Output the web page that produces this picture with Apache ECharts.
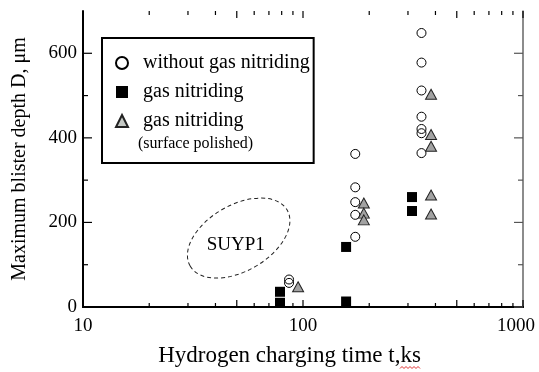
<!DOCTYPE html>
<html>
<head>
<meta charset="utf-8">
<script src="https://cdn.jsdelivr.net/npm/echarts@6/dist/echarts.min.js"></script>
<style>
  html, body { margin: 0; padding: 0; background: #fff; }
  #chart { width: 539px; height: 372px; }
</style>
</head>
<body>
<div id="chart"></div>
<script>
// Hydrogen charging time (ks) and maximum blister depth D (µm)
const plainTime  = [86.4, 86.4, 172.8, 172.8, 172.8, 172.8, 172.8, 345.6, 345.6, 345.6, 345.6, 345.6, 345.6, 345.6];
const plainDepth = [65, 57, 362, 283, 248, 218, 166, 648, 578, 512, 450, 421, 411, 364];

const nitridedTime  = [78.6, 78.6, 157, 157, 313, 313];
const nitridedDepth = [36, 10, 142, 13, 260, 227];

const polishedTime  = [95, 189, 189, 189, 382, 382, 382, 382, 382];
const polishedDepth = [48, 246, 222, 206, 503, 408, 380, 265, 220];

const seriesNames = ['without gas nitriding', 'gas nitriding', 'gas nitriding '];
const polishedNote = '(surface polished)';
const regionLabel = 'SUYP1';

// Axis ranges and ticks
const xMin = 10, xMax = 1000;
const yMin = 0, yMax = 700;
const xTickLabels = [10, 100, 1000];
const xMajorTicks = [10, 50, 100, 500, 1000];
const xMinorTicks = [20, 30, 40, 60, 70, 80, 90, 200, 300, 400, 600, 700, 800, 900];
const yTickLabels = [0, 200, 400, 600];
const yMinorTicks = [100, 300, 500];

const SERIF = 'Liberation Serif';
const zip = (xs, ys) => xs.map((x, i) => [x, ys[i]]);

const chart = echarts.init(document.getElementById('chart'), null, { renderer: 'canvas' });

// Inward ticks on both sides of the frame, placed through the axis scales
function xTickRender(params, api) {
  const len = api.value(1) ? 7 : 4;
  const b = api.coord([api.value(0), yMin]);
  const t = api.coord([api.value(0), yMax]);
  const st = { stroke: '#000', lineWidth: 1.2 };
  return { type: 'group', children: [
    { type: 'line', shape: { x1: b[0], y1: b[1], x2: b[0], y2: b[1] - len }, style: st },
    { type: 'line', shape: { x1: t[0], y1: t[1], x2: t[0], y2: t[1] + len }, style: st }
  ] };
}
function yTickRender(params, api) {
  const len = api.value(2) ? 9 : 5;
  const l = api.coord([xMin, api.value(1)]);
  const r = api.coord([xMax, api.value(1)]);
  const st = { stroke: '#000', lineWidth: 1.2 };
  return { type: 'group', children: [
    { type: 'line', shape: { x1: l[0], y1: l[1], x2: l[0] + len, y2: l[1] }, style: st },
    { type: 'line', shape: { x1: r[0], y1: r[1], x2: r[0] - len, y2: r[1] }, style: { stroke: '#555', lineWidth: 1.2 } }
  ] };
}

// small wavy underline beneath "ks" in the axis title
const wave = [];
for (let i = 0; i <= 10; i++) wave.push([400 + i * 2, i % 2 ? 366.5 : 368.5]);

const option = {
  backgroundColor: '#fff',
  animation: false,
  grid: { left: 83, right: 16, top: 11, bottom: 65 },
  xAxis: [
    {
      type: 'log', logBase: 10, min: xMin, max: xMax,
      name: 'Hydrogen charging time t,ks',
      nameLocation: 'middle', nameGap: 37,
      nameTextStyle: { fontFamily: SERIF, fontSize: 23, color: '#000', padding: [0, 27, 0, 0] },
      axisLine: { show: true, lineStyle: { color: '#000', width: 2 } },
      axisTick: { show: false },
      splitLine: { show: false },
      axisLabel: {
        margin: 10, color: '#000', fontFamily: SERIF, fontSize: 19,
        formatter: v => (xTickLabels.indexOf(v) === xTickLabels.length - 1 ? '{r|' + v + '}' : String(v)),
        rich: { r: { fontFamily: SERIF, fontSize: 19, color: '#000', padding: [0, 14, 0, 0] } }
      }
    },
    {
      type: 'log', logBase: 10, min: xMin, max: xMax, position: 'top',
      axisLine: { show: true, lineStyle: { color: '#000', width: 2 } },
      axisTick: { show: false }, axisLabel: { show: false }, splitLine: { show: false }
    }
  ],
  yAxis: [
    {
      type: 'value', min: yMin, max: yMax, interval: 100,
      name: 'Maximum blister depth D, \u03bcm',
      nameLocation: 'middle', nameGap: 53,
      nameTextStyle: { fontFamily: SERIF, fontSize: 20, color: '#000' },
      axisLine: { show: true, lineStyle: { color: '#000', width: 2 } },
      axisTick: { show: false },
      splitLine: { show: false },
      axisLabel: {
        margin: 6, color: '#000', fontFamily: SERIF, fontSize: 19,
        formatter: v => (yTickLabels.indexOf(v) >= 0 ? String(v) : '')
      }
    },
    {
      type: 'value', min: yMin, max: yMax, position: 'right',
      axisLine: { show: true, lineStyle: { color: '#666', width: 1.5 } },
      axisTick: { show: false }, axisLabel: { show: false }, splitLine: { show: false }
    }
  ],
  legend: {
    orient: 'vertical', left: 102, top: 38,
    padding: [15, 4, 32, 13],
    itemWidth: 12, itemHeight: 12, itemGap: 9,
    backgroundColor: '#fff', borderColor: '#000', borderWidth: 2, borderRadius: 0,
    formatter: name => '{t|' + name + '}',
    textStyle: {
      fontFamily: SERIF, fontSize: 20, color: '#000',
      rich: { t: { fontFamily: SERIF, fontSize: 20, color: '#000', padding: [0, 0, 0, 10] } }
    },
    data: [
      { name: seriesNames[0] },
      { name: seriesNames[1] },
      { name: seriesNames[2], itemStyle: { color: '#c4c8c4', opacity: 1 } }
    ]
  },
  graphic: [
    {
      type: 'text', left: 138, top: 136, silent: true, z: 100,
      style: { text: polishedNote, fontFamily: SERIF, fontSize: 16, fill: '#000' }
    },
    {
      type: 'polyline', silent: true, z: 100,
      shape: { points: wave },
      style: { stroke: '#e03030', lineWidth: 1, fill: 'none' }
    }
  ],
  series: [
    {
      name: seriesNames[0], type: 'scatter', symbol: 'circle', symbolSize: 9,
      itemStyle: { color: 'rgba(255,255,255,0)', borderColor: '#000', borderWidth: 1, opacity: 1 },
      data: zip(plainTime, plainDepth), z: 3
    },
    {
      name: seriesNames[1], type: 'scatter', symbol: 'rect', symbolSize: 10,
      itemStyle: { color: '#000', opacity: 1 },
      data: zip(nitridedTime, nitridedDepth), z: 3
    },
    {
      name: seriesNames[2], type: 'scatter', symbol: 'triangle', symbolSize: [11, 10],
      itemStyle: { color: '#a2a2a2', borderColor: '#222', borderWidth: 1, opacity: 1 },
      data: zip(polishedTime, polishedDepth), z: 4
    },
    {
      type: 'custom', silent: true, z: 5,
      data: xMajorTicks.map(v => [v, 1]).concat(xMinorTicks.map(v => [v, 0])),
      renderItem: xTickRender
    },
    {
      type: 'custom', silent: true, z: 5,
      data: yTickLabels.map(v => [xMin, v, 1]).concat(yMinorTicks.map(v => [xMin, v, 0])),
      renderItem: yTickRender
    },
    {
      // dashed outline around the SUYP1 region with its label
      type: 'custom', silent: true, z: 2,
      data: [[51, 163]],
      renderItem: (params, api) => {
        const c = api.coord([api.value(0), api.value(1)]);
        return { type: 'group', children: [
          { type: 'ellipse', x: c[0], y: c[1], rotation: Math.PI / 6,
            shape: { cx: 0, cy: 0, rx: 56, ry: 33 },
            style: { fill: 'none', stroke: '#222', lineWidth: 1, lineDash: [4, 3] } },
          { type: 'text', x: c[0] - 3, y: c[1] + 7,
            style: { text: regionLabel, fontFamily: SERIF, fontSize: 19, fill: '#000',
                     align: 'center', verticalAlign: 'middle' } }
        ] };
      }
    }
  ]
};

chart.setOption(option);
</script>
</body>
</html>
